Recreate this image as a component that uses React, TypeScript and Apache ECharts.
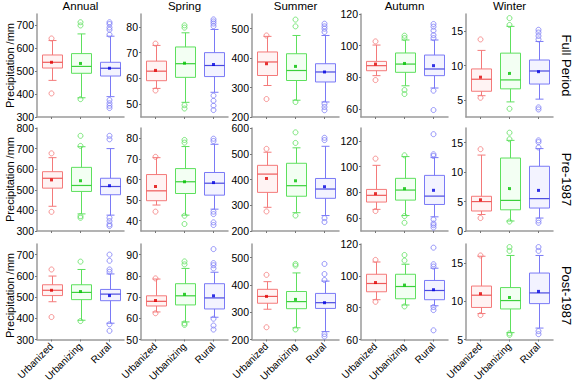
import React, { useEffect, useRef } from "react";
import * as echarts from "echarts";

const categories = ["Urbanized", "Urbanizing", "Rural"];
const seasons = ["Annual", "Spring", "Summer", "Autumn", "Winter"];
const periods = ["Full Period", "Pre-1987", "Post-1987"];
const yAxisTitle = "Precipitation /mm";

// y-axis ranges and tick labels, per row (period) and column (season)
const yMins = [
  [300, 45, 200, 55, 2.5],
  [300, 35, 200, 50, 0],
  [300, 50, 200, 60, 5],
];
const yMaxs = [
  [750, 85, 550, 120, 17.5],
  [800, 85, 600, 130, 17.5],
  [750, 95, 550, 120, 17.5],
];
const yTicks = [
  [[300, 400, 500, 600, 700], [50, 60, 70, 80], [200, 300, 400, 500], [60, 80, 100, 120], [5, 10, 15]],
  [[300, 400, 500, 600, 700, 800], [40, 50, 60, 70, 80], [200, 300, 400, 500, 600], [60, 80, 100, 120], [0, 5, 10, 15]],
  [[300, 400, 500, 600, 700], [50, 60, 70, 80, 90], [200, 300, 400, 500], [60, 80, 100, 120], [5, 10, 15]],
];

// Box stats per category: [lower whisker, Q1, median, Q3, upper whisker]
// ---- Full Period ----
const fullAnnualBox = [[460, 514, 539, 571, 634], [384, 491, 521, 577, 663], [389, 479, 513, 539, 653]];
const fullAnnualMean = [539, 534, 513];
const fullAnnualOut = [[643, 403], [714, 700, 378], [714, 706, 691, 681, 660, 374, 360, 349, 339]];

const fullSpringBox = [[56.1, 59.1, 62.8, 66.7, 72.8], [50.7, 60.4, 65.7, 72.2, 77.7], [54.6, 60.7, 65.0, 70.0, 79.0]];
const fullSpringMean = [63.1, 65.9, 65.4];
const fullSpringOut = [[73.5, 55.3], [80.6, 79.7, 49.6, 48.3], [82.9, 82.1, 81.3, 80.3, 53.3, 51.3, 49.4, 47.7]];

const fullSummerBox = [[307, 341, 387, 421, 474], [257, 324, 358, 415, 477], [251, 319, 353, 381, 477]];
const fullSummerMean = [381, 372, 353];
const fullSummerOut = [[477, 261], [531, 508, 251], [517, 508, 500, 489, 245, 234, 223]];

const fullAutumnBox = [[81.1, 84.2, 87.4, 90.1, 100.4], [74.7, 83.2, 88.4, 95.4, 103.6], [73.3, 81.1, 85.3, 94.1, 103.6]];
const fullAutumnMean = [88.4, 88.8, 87.4];
const fullAutumnOut = [[102.7, 78.3], [106.3, 104.8, 72, 69.5], [113.7, 112, 109.5, 106.7, 104.8, 71.6, 59.4]];

const fullWinterBox = [[5.6, 6.25, 8.0, 9.5, 12.2], [4.7, 6.6, 7.9, 11.8, 15.7], [5.1, 7.3, 9.2, 10.8, 13.5]];
const fullWinterMean = [8.3, 8.85, 9.1];
const fullWinterOut = [[13.8, 5.3], [16.9, 15.9, 3.7], [15.2, 14.8, 14.3, 13.8, 3.9, 3.6]];

// ---- Pre-1987 ----
const preAnnualBox = [[420, 508, 556, 588, 656], [383, 492, 521, 609, 709], [377, 476, 516, 556, 700]];
const preAnnualMean = [548, 544, 520];
const preAnnualOut = [[677, 393], [762, 713, 372, 364], [762, 745, 364, 348, 332, 324]];

const preSpringBox = [[47.6, 49.7, 54.5, 62.4, 70.6], [42.7, 53.2, 58.9, 65.3, 76], [45.6, 52.4, 58.2, 63.4, 77.1]];
const preSpringMean = [56.6, 58.9, 58.5];
const preSpringOut = [[71, 44.4], [79.2, 77.9, 42.4, 38.4], [79.8, 78.7, 44.4, 43.2, 39.2, 37.9]];

const preSummerBox = [[292, 350, 421, 455, 506], [271, 335, 376, 463, 523], [260, 327, 363, 404, 529]];
const preSummerMean = [404, 395, 372];
const preSummerOut = [[519, 276], [583, 542, 260], [562, 553, 250, 235]];

const preAutumnBox = [[66.8, 72.5, 77.7, 82.3, 101], [62, 74, 81.8, 90.9, 107.8], [61, 70.6, 77.1, 93.2, 107]];
const preAutumnMean = [79, 82.9, 81.6];
const preAutumnOut = [[106.2, 65.5], [108.8, 61.6, 56.4], [125.2, 109.6, 108.3, 59, 55.8, 54.5, 52.7]];

const preWinterBox = [[2.8, 3.4, 5.0, 5.9, 12.9], [1.7, 3.6, 5.2, 12.4, 15.4], [2.2, 3.9, 5.5, 11.0, 14.0]];
const preWinterMean = [5.3, 7.2, 6.9];
const preWinterOut = [[13.9, 2.2], [16.7, 15.6, 1.6], [15.4, 15.1, 14.2, 1.8, 1.4]];

// ---- Post-1987 ----
const postAnnualBox = [[478, 507, 532, 558, 599], [391, 488, 522, 558, 630], [377, 483, 514, 536, 609]];
const postAnnualMean = [532, 526, 507];
const postAnnualOut = [[630, 406], [667, 387], [700, 671, 630, 619, 372, 341]];

const postSpringBox = [[63, 65.8, 68, 70.6, 78.5], [58.3, 66.3, 70.6, 76.3, 83.5], [60.5, 64.4, 69.6, 76.3, 81.7]];
const postSpringMean = [68.4, 71.3, 70.6];
const postSpringOut = [[78.8, 62.4], [86.8, 85.4, 57.6, 56.9], [92.6, 86, 85, 83.5, 59.8, 56.6, 54.7]];

const postSummerBox = [[311, 333, 358, 384, 412], [243, 313, 339, 376, 444], [229, 314, 335, 369, 414]];
const postSummerMean = [358, 347, 335];
const postSummerOut = [[437, 245], [477, 471, 237], [477, 440, 418, 220, 211]];

const postAutumnBox = [[85, 90, 95.2, 101, 108.7], [81.7, 85.6, 93.3, 101, 107.3], [81.2, 85, 90.8, 97.1, 104.8]];
const postAutumnMean = [95.8, 94.2, 91.3];
const postAutumnOut = [[110, 83.7], [113.1, 109.6, 80.8], [117.7, 107.3, 105.8, 80.4, 78.5, 65.8]];

const postWinterBox = [[8.4, 9.2, 10.8, 12.0, 15.9], [5.9, 9.0, 10.1, 11.8, 16.0], [6.5, 9.7, 11.1, 13.7, 16.0]];
const postWinterMean = [11.0, 10.5, 11.3];
const postWinterOut = [[16.0, 8.2], [17.1, 16.6, 5.8, 5.6], [17.1, 16.6, 6.1, 5.7]];

const boxesByRow = [
  [fullAnnualBox, fullSpringBox, fullSummerBox, fullAutumnBox, fullWinterBox],
  [preAnnualBox, preSpringBox, preSummerBox, preAutumnBox, preWinterBox],
  [postAnnualBox, postSpringBox, postSummerBox, postAutumnBox, postWinterBox],
];
const meansByRow = [
  [fullAnnualMean, fullSpringMean, fullSummerMean, fullAutumnMean, fullWinterMean],
  [preAnnualMean, preSpringMean, preSummerMean, preAutumnMean, preWinterMean],
  [postAnnualMean, postSpringMean, postSummerMean, postAutumnMean, postWinterMean],
];
const outliersByRow = [
  [fullAnnualOut, fullSpringOut, fullSummerOut, fullAutumnOut, fullWinterOut],
  [preAnnualOut, preSpringOut, preSummerOut, preAutumnOut, preWinterOut],
  [postAnnualOut, postSpringOut, postSummerOut, postAutumnOut, postWinterOut],
];

// ---- styling / layout ----
const palette = [
  { line: "#f47a7a", fill: "rgba(255,80,80,0.07)", median: "#ee5a5a", mean: "#e00000" },
  { line: "#5ee05e", fill: "rgba(80,255,80,0.07)", median: "#3cd03c", mean: "#00c000" },
  { line: "#7a7af6", fill: "rgba(80,80,255,0.07)", median: "#4a4ae0", mean: "#0000e0" },
];
const FONT = "'Liberation Sans', Arial, sans-serif";
const gridLefts = [37, 141, 252, 361, 466];
const gridTops = [14, 128, 244];
const gridW = 87;
const gridH = 103;
const axisColor = "#9a9a9a";

function renderBox(params: any, api: any) {
  const i = api.value(0);
  const pal = palette[i];
  const lo = api.coord([i, api.value(1)]);
  const q1 = api.coord([i, api.value(2)]);
  const md = api.coord([i, api.value(3)]);
  const q3 = api.coord([i, api.value(4)]);
  const hi = api.coord([i, api.value(5)]);
  const x = Math.round(lo[0]) + 0.5;
  const bw = Math.round(api.size([1, 0])[0] * 0.68);
  const half = bw / 2;
  const cap = 4;
  const ls = { stroke: pal.line, lineWidth: 1, fill: null };
  return {
    type: "group",
    children: [
      { type: "line", shape: { x1: x, y1: hi[1], x2: x, y2: q3[1] }, style: ls },
      { type: "line", shape: { x1: x, y1: q1[1], x2: x, y2: lo[1] }, style: ls },
      { type: "line", shape: { x1: x - cap, y1: hi[1], x2: x + cap, y2: hi[1] }, style: ls },
      { type: "line", shape: { x1: x - cap, y1: lo[1], x2: x + cap, y2: lo[1] }, style: ls },
      {
        type: "rect",
        shape: { x: x - half, y: q3[1], width: bw, height: q1[1] - q3[1] },
        style: { fill: pal.fill, stroke: pal.line, lineWidth: 1 },
      },
      { type: "line", shape: { x1: x - half, y1: md[1], x2: x + half, y2: md[1] }, style: { stroke: pal.median, lineWidth: 1.2 } },
    ],
  };
}

function buildOption() {
  const grid: any[] = [];
  const xAxis: any[] = [];
  const yAxis: any[] = [];
  const series: any[] = [];
  const graphic: any[] = [];

  for (let r = 0; r < periods.length; r++) {
    for (let c = 0; c < seasons.length; c++) {
      const idx = r * seasons.length + c;
      grid.push({ left: gridLefts[c], top: gridTops[r], width: gridW, height: gridH, containLabel: false });
      xAxis.push({
        type: "category",
        gridIndex: idx,
        data: categories,
        boundaryGap: true,
        axisLine: { show: true, lineStyle: { color: axisColor, width: 1.5 } },
        axisTick: { show: true, alignWithLabel: true, length: 2, lineStyle: { color: "#777" } },
        axisLabel: {
          show: r === periods.length - 1,
          rotate: 45,
          fontSize: 10,
          fontFamily: FONT,
          color: "#000",
          margin: 5,
          interval: 0,
        },
        splitLine: { show: false },
      });
      yAxis.push({
        type: "value",
        gridIndex: idx,
        min: yMins[r][c],
        max: yMaxs[r][c],
        axisLine: { show: true, lineStyle: { color: axisColor, width: 1.5 } },
        axisTick: { show: true, length: 2, customValues: yTicks[r][c], lineStyle: { color: "#777" } },
        axisLabel: {
          fontSize: 10.5,
          fontFamily: FONT,
          color: "#000",
          margin: 3,
          customValues: yTicks[r][c],
        },
        splitLine: { show: false },
      });

      const boxes = boxesByRow[r][c];
      const means = meansByRow[r][c];
      const outs = outliersByRow[r][c];

      series.push({
        type: "custom",
        xAxisIndex: idx,
        yAxisIndex: idx,
        renderItem: renderBox,
        encode: { x: 0, y: [1, 2, 3, 4, 5] },
        data: boxes.map((b, i) => [i, ...b]),
        silent: true,
      });
      const outData: any[] = [];
      outs.forEach((arr, i) =>
        arr.forEach((v) =>
          outData.push({ value: [i, v], itemStyle: { color: "rgba(0,0,0,0)", borderColor: palette[i].line, borderWidth: 1 } })
        )
      );
      series.push({
        type: "scatter",
        xAxisIndex: idx,
        yAxisIndex: idx,
        symbol: "circle",
        symbolSize: 5,
        data: outData,
        silent: true,
      });
      series.push({
        type: "scatter",
        xAxisIndex: idx,
        yAxisIndex: idx,
        symbol: "rect",
        symbolSize: 3,
        data: means.map((v, i) => ({ value: [i, v], itemStyle: { color: palette[i].mean } })),
        silent: true,
      });
    }
  }

  seasons.forEach((s, c) => {
    graphic.push({
      type: "text",
      x: gridLefts[c] + gridW / 2,
      y: 6,
      style: { text: s, fontSize: 11.5, fontFamily: FONT, fill: "#000", align: "center", verticalAlign: "middle" },
    });
  });
  periods.forEach((p, r) => {
    graphic.push({
      type: "text",
      x: 566,
      y: gridTops[r] + gridH / 2,
      rotation: -Math.PI / 2,
      style: { text: p, fontSize: 13, fontFamily: FONT, fill: "#000", align: "center", verticalAlign: "middle" },
    });
    graphic.push({
      type: "text",
      x: 10,
      y: gridTops[r] + gridH / 2,
      rotation: Math.PI / 2,
      style: { text: yAxisTitle, fontSize: 11, fontFamily: FONT, fill: "#000", align: "center", verticalAlign: "middle" },
    });
  });

  return {
    animation: false,
    backgroundColor: "#fff",
    grid,
    xAxis,
    yAxis,
    series,
    graphic,
  };
}

export default function App() {
  const ref = useRef<HTMLDivElement>(null);
  useEffect(() => {
    if (!ref.current) return;
    const chart = echarts.init(ref.current, null, { renderer: "svg" });
    chart.setOption(buildOption() as any);
    return () => chart.dispose();
  }, []);
  return <div ref={ref} style={{ position: "absolute", left: 0, top: 0, width: 575, height: 384 }} />;
}
